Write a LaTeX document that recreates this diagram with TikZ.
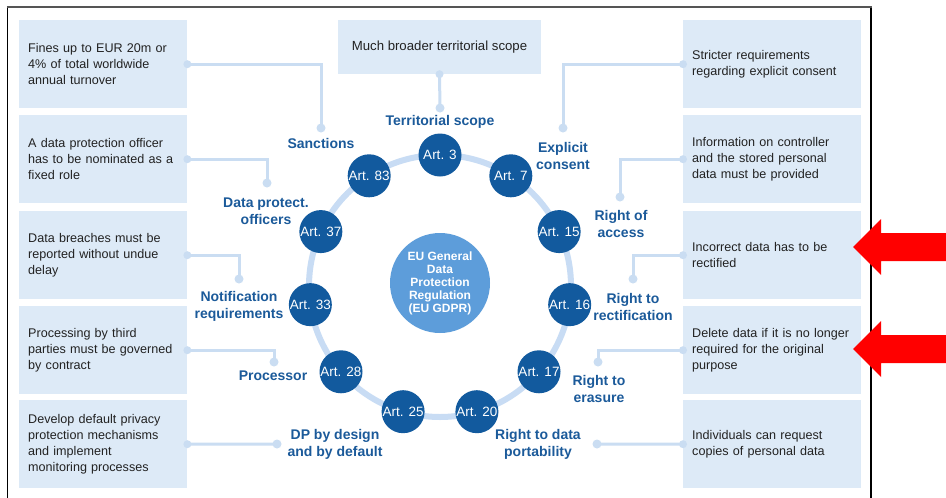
\documentclass[tikz,border=0pt]{standalone}
\usepackage{fontspec}
\setmainfont{Liberation Sans}
\definecolor{boxfill}{HTML}{DDEAF7}
\definecolor{connblue}{HTML}{CADDF2}
\definecolor{ringblue}{HTML}{C8DCF4}
\definecolor{artblue}{HTML}{125A9E}
\definecolor{centerblue}{HTML}{5D9DDA}
\definecolor{lblblue}{HTML}{1B5A9A}
\definecolor{textgray}{HTML}{222222}
\definecolor{framegray}{HTML}{555555}
\tikzset{
  infobox/.style={fill=boxfill, draw=none, anchor=north west, minimum height=88pt,
    inner xsep=9pt, inner ysep=0pt, text width=#1, align=left,
    font=\fontsize{12.6}{16}\selectfont, text=textgray},
  art/.style={circle, fill=artblue, minimum size=43pt, inner sep=0pt, text=white,
    font=\fontsize{13.5}{15}\selectfont},
  lbl/.style={text=lblblue, font=\bfseries\fontsize{14}{17}\selectfont, align=center, inner sep=0pt},
  conn/.style={draw=connblue, line width=3pt},
  enddot/.style={fill=connblue},
  redarrow/.style={fill=red, draw=none}
}
\begin{document}
\begin{tikzpicture}[x=1pt,y=-1pt]
\useasboundingbox (0,0) rectangle (946,498);
\fill[white] (0,0) rectangle (946,498);
% frame
\draw[black, line width=1.3pt] (7.5,498) -- (7.5,6.5);
\draw[black, line width=1.3pt] (871,498) -- (871,6.5);
\draw[framegray, line width=2pt] (6.8,6.5) -- (871.7,6.5);

% left boxes
\node[infobox=150pt] (b1) at (19,20) {Fines up to EUR 20m or\\4\% of total worldwide\\annual turnover};
\node[infobox=150pt] (b2) at (19,115) {A data protection officer\\has to be nominated as a\\fixed role};
\node[infobox=150pt] (b3) at (19,211) {Data breaches must be\\reported without undue\\delay};
\node[infobox=150pt] (b4) at (19,306) {Processing by third\\parties must be governed\\by contract};
\node[infobox=150pt] (b5) at (19,400) {Develop default privacy\\protection mechanisms\\and implement\\monitoring processes};
% right boxes
\node[infobox=160pt] (r1) at (683,20) {Stricter requirements\\regarding explicit consent};
\node[infobox=160pt] (r2) at (683,115) {Information on controller\\and the stored personal\\data must be provided};
\node[infobox=160pt] (r3) at (683,211) {Incorrect data has to be\\rectified};
\node[infobox=160pt] (r4) at (683,306) {Delete data if it is no longer\\required for the original\\purpose};
\node[infobox=160pt] (r5) at (683,400) {Individuals can request\\copies of personal data};
% top box
\node[fill=boxfill, minimum width=203pt, minimum height=54pt, inner sep=0pt,
  font=\fontsize{13.2}{16}\selectfont, text=textgray] (tb) at (439.5,47) {Much broader territorial scope};

% dot coordinates
\coordinate (dtop) at (440,108);
\coordinate (dsanc) at (321,128);
\coordinate (ddpo) at (267,183);
\coordinate (dnot) at (239,279);
\coordinate (dproc) at (274,362);
\coordinate (ddp) at (277,444);
\coordinate (dexp) at (563,128);
\coordinate (dacc) at (620,197);
\coordinate (drect) at (633,279);
\coordinate (deras) at (598,362);
\coordinate (dport) at (597,444);

% connectors
\draw[conn] (tb.south) -- (dtop);
\draw[conn] (b1.east) -| (dsanc);
\draw[conn] (b2.east) -| (ddpo);
\draw[conn] (b3.east) -| (dnot);
\draw[conn] (b4.east) -| (dproc);
\draw[conn] (b5.east) -- (ddp);
\draw[conn] (r1.west) -| (dexp);
\draw[conn] (r2.west) -| (dacc);
\draw[conn] (r3.west) -| (drect);
\draw[conn] (r4.west) -| (deras);
\draw[conn] (r5.west) -- (dport);
\foreach \d in {dtop,dsanc,ddpo,dnot,dproc,ddp,dexp,dacc,drect,deras,dport}
  \fill[enddot] (\d) circle (4.5);
\foreach \b in {b1,b2,b3,b4,b5}
  \fill[enddot] (\b.east) circle (4);
\foreach \b in {r1,r2,r3,r4,r5}
  \fill[enddot] (\b.west) circle (4);
\fill[enddot] (tb.south) circle (4);

% labels
\node[lbl] (lterr) at (440,122) {Territorial scope};
\node[lbl] (lsanc) at (321,143) {Sanctions};
\node[lbl] (ldpo) at (266,211) {Data protect.\\officers};
\node[lbl] (lexp) at (563,156) {Explicit\\consent};
\node[lbl] (lacc) at (621,223.5) {Right of\\access};
\node[lbl] (lnot) at (239,306.5) {Notification\\requirements};
\node[lbl] (lrect) at (633,306.5) {Right to\\rectification};
\node[lbl] (lproc) at (273,376) {Processor};
\node[lbl] (leras) at (599,388.5) {Right to\\erasure};
\node[lbl] (ldp) at (335,444.5) {DP by design\\and by default};
\node[lbl] (lport) at (538,444.5) {Right to data\\portability};

% ring of articles
\coordinate (rc) at (440,286);
\draw[ringblue, line width=6pt] (rc) circle (131);
\foreach \n [count=\k from 0] in {3,7,15,16,17,20,25,28,33,37,83}
  \node[art] (a\n) at ([shift={({\k*360/11-90}:131)}]rc) {Art. \n};

% center
\node[circle, fill=centerblue, minimum size=100pt, inner sep=0pt, text=white, align=center,
  font=\bfseries\fontsize{12}{13}\selectfont] (gdpr) at (440,283)
  {EU General\\Data\\Protection\\Regulation\\(EU GDPR)};

% red arrows
\fill[redarrow] (853,247) -- (881,219) -- (881,233) -- (946,233) -- (946,261) -- (881,261) -- (881,275) -- cycle;
\fill[redarrow] (853,349) -- (881,321) -- (881,335) -- (946,335) -- (946,363) -- (881,363) -- (881,377) -- cycle;
\end{tikzpicture}
\end{document}
